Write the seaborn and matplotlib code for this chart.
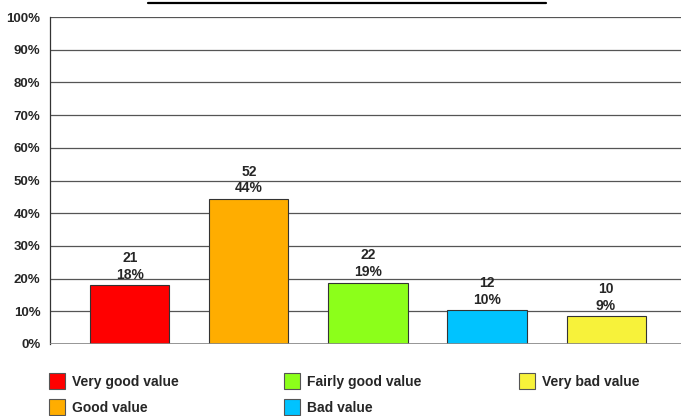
import numpy as np
import pandas as pd
import matplotlib
matplotlib.use("Agg")
import matplotlib.pyplot as plt
import seaborn as sns
from matplotlib.patches import Patch
from matplotlib.lines import Line2D

# data
categories = ["Very good value", "Good value", "Fairly good value", "Bad value", "Very bad value"]
counts = [21, 52, 22, 12, 10]
colors = ["#FF0000", "#FFAD00", "#8CFF1A", "#00C3FF", "#F7F23A"]

total = sum(counts)
pcts = [c / total * 100 for c in counts]
df = pd.DataFrame({"category": categories, "pct": pcts, "count": counts})

sns.set_style("white")
plt.rcParams["font.family"] = ["Liberation Sans", "DejaVu Sans"]

W, H = 681, 416
fig = plt.figure(figsize=(W / 100, H / 100), dpi=100)
ax = fig.add_axes([50 / W, 72 / H, 631 / W, 327 / H])

sns.barplot(data=df, x="category", y="pct", hue="category", palette=colors,
            width=0.664, edgecolor="#333333", linewidth=0.8, legend=False,
            saturation=1, ax=ax, zorder=3)

ax.set_xlim(-0.672, 4.63)
ax.set_ylim(0, 100)
ax.set_yticks(np.arange(0, 101, 10))
ax.set_yticklabels([f"{v}%" for v in range(0, 101, 10)], fontsize=9.5, fontweight="bold")
ax.set_xticks([])
ax.set_xlabel("")
ax.set_ylabel("")
ax.tick_params(axis="y", length=0, pad=7)
ax.grid(axis="y", color="#555555", linewidth=0.9, zorder=0)
for s in ["top", "right", "bottom"]:
    ax.spines[s].set_visible(False)
ax.spines["left"].set_color("#333333")
ax.spines["left"].set_linewidth(0.9)
ax.axhline(0, color="#888888", linewidth=1.2, zorder=4)

for i, (c, p) in enumerate(zip(counts, pcts)):
    ax.text(i, p + 1.0, f"{c}\n{p:.0f}%", ha="center", va="bottom",
            fontsize=10, fontweight="bold", linespacing=1.25, zorder=5)

# title underline (title itself is cropped out of the picture)
fig.add_artist(Line2D([148 / W, 546 / W], [1 - 3 / H, 1 - 3 / H],
                      color="black", linewidth=1.6))

# legend: three columns, filled top to bottom
handles = [Patch(facecolor=col, edgecolor="#555555", linewidth=0.8) for col in colors]
cols = [[0, 1], [2, 3], [4]]
col_x = [49, 284, 519]
for idx, x in zip(cols, col_x):
    fig.legend([handles[k] for k in idx], [categories[k] for k in idx],
               loc="upper left", bbox_to_anchor=(x / W, 1 - 373 / H),
               frameon=False, prop={"size": 10, "weight": "bold"},
               handlelength=1.15, handleheight=1.37, handletextpad=0.5,
               labelspacing=0.75, borderpad=0, borderaxespad=0)

fig.savefig("out.png", dpi=100)
